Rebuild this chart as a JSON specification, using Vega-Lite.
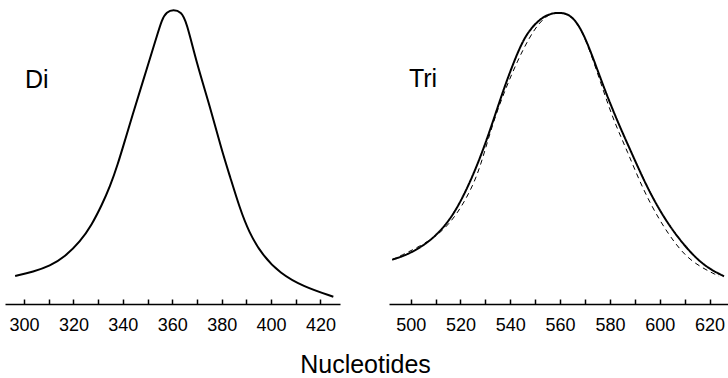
{
  "$schema": "https://vega.github.io/schema/vega-lite/v6.json",
  "padding": {"left": 5, "top": 5, "right": 0, "bottom": 0},
  "background": "white",
  "config": {
    "view": {"stroke": null},
    "axisX": {"grid": false, "domainColor": "black", "domainWidth": 1.6, "tickColor": "black", "tickWidth": 1.5, "labelFontSize": 18, "labelFont": "Liberation Sans", "labelColor": "black", "labelFlush": false, "labelOverlap": false, "title": null}
  },
  "datasets": {
    "di": [
      {"x": 296.4, "y": 28}, {"x": 303.8, "y": 32.3}, {"x": 310.5, "y": 38}, {"x": 316.6, "y": 47.3}, {"x": 322.7, "y": 62.3},
      {"x": 327.4, "y": 79}, {"x": 331.5, "y": 99}, {"x": 334.8, "y": 117.3}, {"x": 338.0, "y": 140}, {"x": 340.9, "y": 164},
      {"x": 343.7, "y": 187.3}, {"x": 348.3, "y": 224}, {"x": 353.7, "y": 267.3}, {"x": 355.8, "y": 284.5}, {"x": 357.7, "y": 292},
      {"x": 360.5, "y": 294.5}, {"x": 363.6, "y": 292}, {"x": 365.7, "y": 283}, {"x": 369.9, "y": 240.7}, {"x": 375.3, "y": 197.3},
      {"x": 380.0, "y": 154}, {"x": 383.4, "y": 127.3}, {"x": 387.3, "y": 96}, {"x": 391.0, "y": 72}, {"x": 396.4, "y": 49},
      {"x": 403.6, "y": 30.7}, {"x": 413.1, "y": 17.3}, {"x": 425.2, "y": 7.3}
    ],
    "tri": [
      {"series": "observed", "x": 492.6, "y": 43.3}, {"series": "observed", "x": 498.6, "y": 48.3}, {"series": "observed", "x": 504.7, "y": 56.7},
      {"series": "observed", "x": 510.7, "y": 68.3}, {"series": "observed", "x": 517.4, "y": 88.3}, {"series": "observed", "x": 524.1, "y": 121.7},
      {"series": "observed", "x": 529.4, "y": 155}, {"series": "observed", "x": 533.5, "y": 185}, {"series": "observed", "x": 537.5, "y": 215},
      {"series": "observed", "x": 541.5, "y": 241.7}, {"series": "observed", "x": 545.5, "y": 265}, {"series": "observed", "x": 549.5, "y": 278.3},
      {"series": "observed", "x": 554.2, "y": 288.3}, {"series": "observed", "x": 559.6, "y": 291}, {"series": "observed", "x": 564.3, "y": 288.3},
      {"series": "observed", "x": 568.3, "y": 275}, {"series": "observed", "x": 572.3, "y": 251.7}, {"series": "observed", "x": 577.6, "y": 215},
      {"series": "observed", "x": 583.0, "y": 181.7}, {"series": "observed", "x": 588.4, "y": 151.7}, {"series": "observed", "x": 595.0, "y": 115},
      {"series": "observed", "x": 601.7, "y": 85}, {"series": "observed", "x": 608.4, "y": 61.7}, {"series": "observed", "x": 615.1, "y": 43.3},
      {"series": "observed", "x": 620.5, "y": 33.3}, {"series": "observed", "x": 625.8, "y": 26.7},
      {"series": "fit", "x": 492.6, "y": 43.3}, {"series": "fit", "x": 504.7, "y": 57.7}, {"series": "fit", "x": 512.0, "y": 70},
      {"series": "fit", "x": 518.7, "y": 88.3}, {"series": "fit", "x": 526.1, "y": 121.7}, {"series": "fit", "x": 530.1, "y": 155},
      {"series": "fit", "x": 533.7, "y": 185}, {"series": "fit", "x": 538.2, "y": 215}, {"series": "fit", "x": 542.8, "y": 241.7},
      {"series": "fit", "x": 547.5, "y": 265}, {"series": "fit", "x": 551.5, "y": 280}, {"series": "fit", "x": 555.5, "y": 289},
      {"series": "fit", "x": 559.6, "y": 291}, {"series": "fit", "x": 564.3, "y": 287.7}, {"series": "fit", "x": 568.3, "y": 275},
      {"series": "fit", "x": 572.3, "y": 250}, {"series": "fit", "x": 577.0, "y": 215}, {"series": "fit", "x": 581.6, "y": 181.7},
      {"series": "fit", "x": 587.0, "y": 151.7}, {"series": "fit", "x": 593.0, "y": 115}, {"series": "fit", "x": 599.7, "y": 83.3},
      {"series": "fit", "x": 606.4, "y": 58.3}, {"series": "fit", "x": 613.1, "y": 40}, {"series": "fit", "x": 623.8, "y": 26.7}
    ]
  },
  "bounds": "flush",
  "spacing": 49,
  "hconcat": [
    {
      "width": 335,
      "height": 299,
      "resolve": {"axis": {"x": "independent"}},
      "layer": [
        {
          "data": {"name": "di"},
          "mark": {"type": "line", "interpolate": "basis", "color": "black", "strokeWidth": 2},
          "encoding": {
            "x": {"field": "x", "type": "quantitative", "scale": {"domain": [292.3, 427.9], "nice": false, "zero": false},
                  "axis": {"orient": "bottom", "ticks": false, "labelPadding": 12, "values": [300, 320, 340, 360, 380, 400, 420]}},
            "y": {"field": "y", "type": "quantitative", "scale": {"domain": [0, 299], "nice": false, "zero": false}, "axis": null}
          }
        },
        {
          "data": {"values": [{"label": "Di", "x": 300.4, "y": 216}]},
          "mark": {"type": "text", "align": "left", "baseline": "alphabetic", "fontSize": 25, "font": "Liberation Sans", "color": "black"},
          "encoding": {
            "x": {"field": "x", "type": "quantitative",
                  "axis": {"orient": "top", "offset": -299, "domain": false, "labels": false, "ticks": true, "tickSize": 5, "values": [300, 310, 320, 330, 340, 350, 360, 370, 380, 390, 400, 410, 420]}},
            "y": {"field": "y", "type": "quantitative"},
            "text": {"field": "label"}
          }
        }
      ]
    },
    {
      "width": 339,
      "height": 299,
      "resolve": {"axis": {"x": "independent"}},
      "layer": [
        {
          "data": {"name": "tri"},
          "mark": {"type": "line", "interpolate": "basis", "color": "black"},
          "encoding": {
            "x": {"field": "x", "type": "quantitative", "scale": {"domain": [491.3, 627.4], "nice": false, "zero": false},
                  "axis": {"orient": "bottom", "ticks": false, "labelPadding": 12, "values": [500, 520, 540, 560, 580, 600, 620],
                           "title": "Nucleotides", "titleFontSize": 25, "titleFont": "Liberation Sans", "titleFontWeight": "normal", "titleColor": "black",
                           "titleX": -24, "titleY": 68.5, "titleAlign": "center", "titleBaseline": "alphabetic", "titleAngle": 0}},
            "y": {"field": "y", "type": "quantitative", "scale": {"domain": [-1, 298], "nice": false, "zero": false}, "axis": null},
            "strokeDash": {"field": "series", "type": "nominal", "scale": {"domain": ["observed", "fit"], "range": [[1, 0], [5, 4]]}, "legend": null},
            "strokeWidth": {"field": "series", "type": "nominal", "scale": {"domain": ["observed", "fit"], "range": [2, 1]}, "legend": null}
          }
        },
        {
          "data": {"values": [{"label": "Tri", "x": 499.3, "y": 216}]},
          "mark": {"type": "text", "align": "left", "baseline": "alphabetic", "fontSize": 25, "font": "Liberation Sans", "color": "black"},
          "encoding": {
            "x": {"field": "x", "type": "quantitative",
                  "axis": {"orient": "top", "offset": -299, "domain": false, "labels": false, "ticks": true, "tickSize": 5, "values": [500, 510, 520, 530, 540, 550, 560, 570, 580, 590, 600, 610, 620]}},
            "y": {"field": "y", "type": "quantitative"},
            "text": {"field": "label"}
          }
        }
      ]
    }
  ]
}
